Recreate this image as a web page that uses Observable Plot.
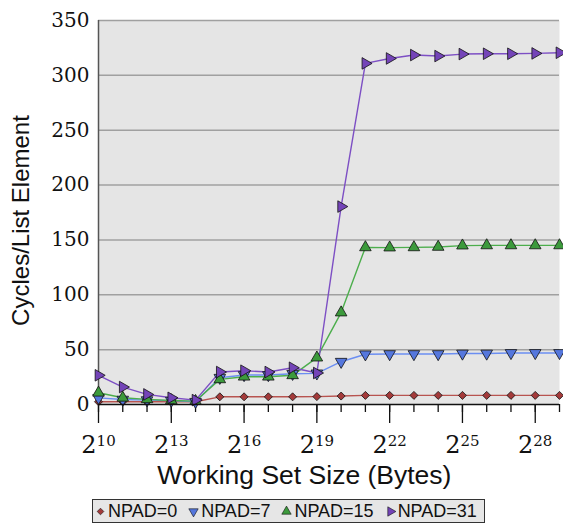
<!DOCTYPE html>
<html><head><meta charset="utf-8">
<script src="https://cdn.jsdelivr.net/npm/d3@7"></script>
<script src="https://cdn.jsdelivr.net/npm/@observablehq/plot@0.6"></script>
<style>
body{margin:0;background:#fff;}
#chart{position:absolute;left:0;top:0;}
#legend{position:absolute;left:92px;top:499px;width:393px;height:24px;box-sizing:border-box;border:1px solid #333;background:#e6e6e6;display:flex;align-items:center;font-family:"Liberation Sans",Arial,sans-serif;font-size:18px;color:#111;padding-left:2px;white-space:nowrap;}
#legend .item{display:flex;align-items:center;margin-right:11px;}
#legend svg{margin-right:2px;}
</style></head><body>
<div id="chart"></div>
<div id="legend"></div>
<script>
// ---- data ----
const exponents = [10,11,12,13,14,15,16,17,18,19,20,21,22,23,24,25,26,27,28,29];
const seriesNames = ["NPAD=0","NPAD=7","NPAD=15","NPAD=31"];
const npad0  = [2.5,2.5,2.5,2.5,2.5,7,7,7,7,7.2,7.7,8.3,8.3,8.3,8.3,8.3,8.3,8.3,8.3,8.3];
const npad7  = [6,4.5,4,3.5,2.5,24.4,26.9,26.9,28,28.4,39,45.8,46,46,46,46.5,46.5,47,47,47];
const npad15 = [10.7,6.1,4.7,3.7,3.1,22.9,25.3,25.3,26.6,42.7,83.8,143.2,143,143.2,143.6,144.8,145,145,145,145];
const npad31 = [26.6,15.9,9.2,6.1,4.0,29.6,30.8,29.6,33.5,28.7,180.4,310.9,315.4,318.5,317.6,319.4,319.7,319.7,320,320.6];
const yTicks = [0,50,100,150,200,250,300,350];
const xLabelExponents = [10,13,16,19,22,25,28];
const xTitle = "Working Set Size (Bytes)";
const yTitle = "Cycles/List Element";

// ---- styles ----
const lineColors = ["#b85450","#6b8ef2","#4cae4c","#7d4fc4"];
const markColors = ["#a33a3a","#5577dd","#3c9a3c","#7444b8"];
const sqrt3 = Math.sqrt(3);
function tri(dir){
  return {draw(ctx,size){
    const y = -Math.sqrt(size/(sqrt3*3));
    const pts = [[0,y*2],[-sqrt3*y,-y],[sqrt3*y,-y]].map(([a,b]) =>
      dir==="up"?[a,b]:dir==="down"?[a,-b]:[-b,a]);
    ctx.moveTo(pts[0][0],pts[0][1]);
    ctx.lineTo(pts[1][0],pts[1][1]);
    ctx.lineTo(pts[2][0],pts[2][1]);
    ctx.closePath();
  }};
}
const diamondSq = {draw(ctx,size){
  const r = Math.sqrt(size/2);
  ctx.moveTo(0,-r);ctx.lineTo(r,0);ctx.lineTo(0,r);ctx.lineTo(-r,0);ctx.closePath();
}};
const symbols = [diamondSq, tri("down"), tri("up"), tri("right")];
const radii = [3.2,4.3,4.3,4.3];

const allValues = [npad0,npad7,npad15,npad31];
const rows = [];
allValues.forEach((vals,si) => vals.forEach((v,i) => rows.push({bytes: 2**exponents[i], cycles: v, series: seriesNames[si]})));

const marks = [
  Plot.frame({fill:"#e5e5e5", stroke:null}),
  Plot.gridY(yTicks.slice(1), {stroke:"#a0a0a0", strokeOpacity:1, strokeWidth:1.5}),
  Plot.ruleX([2**10], {stroke:"#555", strokeWidth:1.5}),
  Plot.axisY(yTicks, {tickSize:0, tickPadding:9, fontFamily:"DejaVu Serif", fontSize:20, label:null, fill:"#111"}),
  Plot.axisX(exponents.map(e => 2**e), {tickSize:8, tickFormat:() => "", label:null, strokeWidth:1.3, stroke:"#111"}),
  Plot.axisX(xLabelExponents.map(e => 2**e), {tickSize:19, tickPadding:12.5, strokeWidth:1.3, stroke:"#111",
    tickFormat: d => "2^" + Math.round(Math.log2(d)), fontFamily:"DejaVu Serif", fontSize:24, label:null, fill:"#111"}),
  Plot.text([xTitle], {text:d=>d, frameAnchor:"bottom", textAnchor:"middle", lineAnchor:"middle", dx:-24.6, dy:71.5, fontFamily:"Liberation Sans", fontSize:26.5, fill:"#111"}),
  Plot.text([yTitle], {text:d=>d, frameAnchor:"left", textAnchor:"middle", lineAnchor:"middle", rotate:-90, dx:-77.5, dy:8, fontFamily:"Liberation Sans", fontSize:24, fill:"#111"})
];
seriesNames.forEach((s,si) => {
  marks.push(Plot.line(rows.filter(d => d.series===s), {x:"bytes", y:"cycles", stroke:lineColors[si], strokeWidth:1.4}));
});
seriesNames.forEach((s,si) => {
  marks.push(Plot.dot(rows.filter(d => d.series===s), {x:"bytes", y:"cycles", symbol:symbols[si], r:radii[si], fill:markColors[si], stroke:"#111", strokeWidth:0.8}));
});
marks.push(Plot.ruleY([0], {stroke:"#111", strokeWidth:1.5}));

const chart = Plot.plot({
  width:563, height:492,
  marginLeft:98, marginRight:4, marginTop:20, marginBottom:88,
  style:{background:"transparent"},
  x:{type:"log", base:2, domain:[2**10, 2**29], axis:null},
  y:{domain:[0,350], axis:null},
  marks
});
document.getElementById("chart").appendChild(chart);

// superscript exponents in x tick labels
d3.select(chart).selectAll("text").each(function(){
  const t = this.textContent;
  const m = /^2\^(\d+)$/.exec(t);
  if (m) {
    const sel = d3.select(this);
    sel.text("2");
    sel.append("tspan").attr("dy", -7).attr("font-size", 15).text(m[1]);
  }
});

// legend
const legend = d3.select("#legend");
seriesNames.forEach((s,si) => {
  const item = legend.append("div").attr("class","item");
  const svg = item.append("svg").attr("width",11).attr("height",11);
  svg.append("path").attr("transform","translate(5.5,5.5)")
    .attr("d", d3.symbol(symbols[si], si===0?22:38)())
    .attr("fill", markColors[si]).attr("stroke","#111").attr("stroke-width",0.6);
  item.append("span").text(s);
});
</script>
</body></html>
